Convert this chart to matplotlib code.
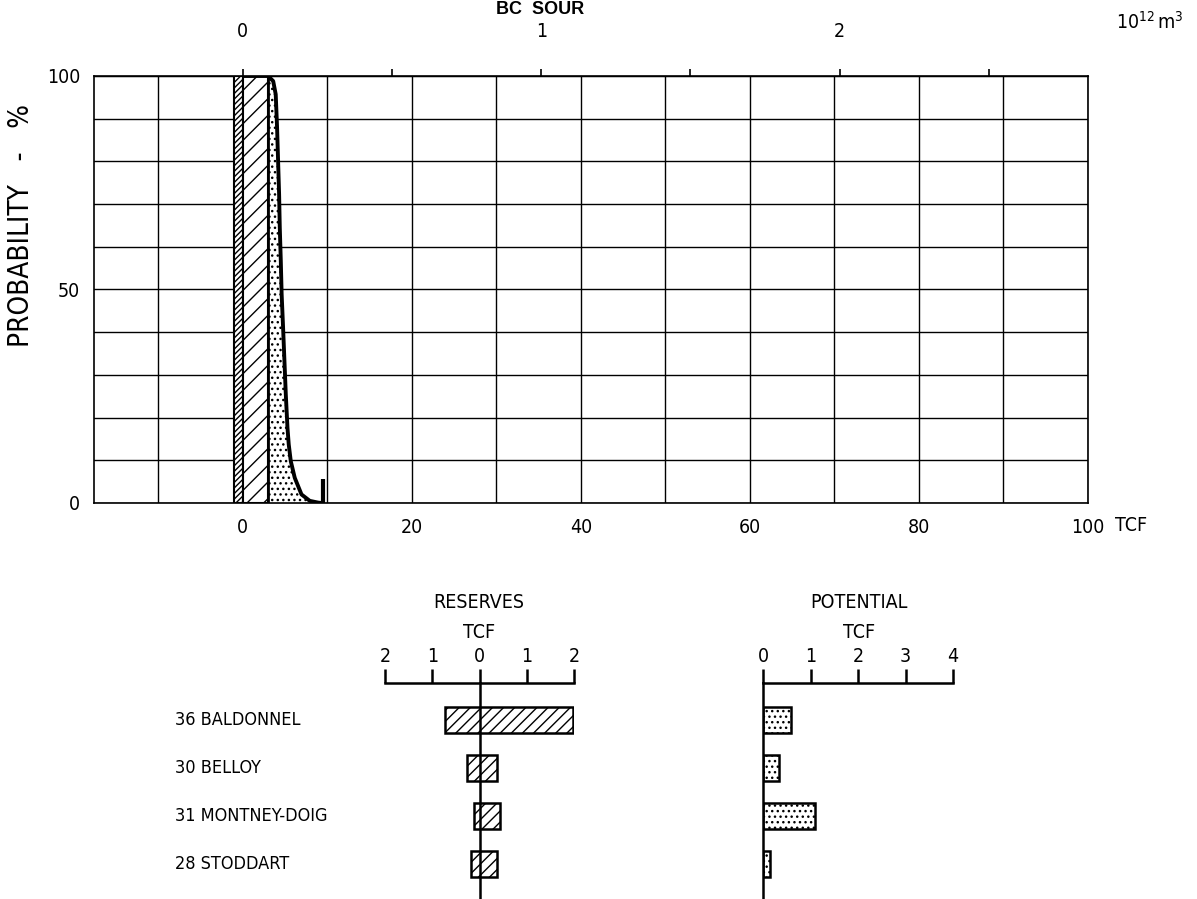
import matplotlib
matplotlib.use("Agg")
import matplotlib.pyplot as plt
import matplotlib.transforms as mtransforms

plt.rcParams['font.family'] = ['DejaVu Sans']
plt.rcParams['font.stretch'] = 'condensed'
plt.rcParams['mathtext.default'] = 'regular'
plt.rcParams['hatch.linewidth'] = 1.0

# cumulative probability curve, BC sour gas (TCF vs % probability)
curve_tcf = [0.2, 3.0, 3.6, 3.9, 4.06, 4.18, 4.3, 4.38, 4.5, 4.6, 4.77, 4.93,
             5.09, 5.29, 5.44, 5.68, 6.15, 6.95, 7.93, 8.9, 9.3]
curve_prob = [100, 100, 98.8, 95.7, 87.9, 80.1, 72.3, 64.5, 56.7, 48.9, 41.1, 33.3,
              25.5, 17.6, 13.7, 9.8, 5.9, 2.0, 0.5, 0.1, 0]
spike_tcf = 9.5
spike_prob = 5.6
band_lo = -1.0   # reserves band, dense hatch
band_mid = 0.0
band_hi = 3.0    # reserves band, light hatch

fields = ['36 BALDONNEL', '30 BELLOY', '31 MONTNEY-DOIG', '28 STODDART']
res_left = [-0.74, -0.27, -0.11, -0.17]
res_right = [1.97, 0.38, 0.44, 0.36]
potential = [0.58, 0.34, 1.09, 0.14]

res_ticks = [-2, -1, 0, 1, 2]
res_ticklabels = ['2', '1', '0', '1', '2']
pot_ticks = [0, 1, 2, 3, 4]

TCF_PER_E12M3 = 35.31
W, H = 1197, 899

fig = plt.figure(figsize=(W / 100, H / 100), dpi=100)

# ---- main probability plot ----
ax = fig.add_axes([94 / W, 1 - 503 / H, (1088 - 94) / W, (503 - 76) / H])
ax.set_xlim(-17.6, 100)
ax.set_ylim(0, 100)
ax.set_xticks([0, 20, 40, 60, 80, 100])
ax.set_xticks([-10, 10, 30, 50, 70, 90], minor=True)
ax.set_yticks([0, 50, 100])
ax.set_yticks(range(10, 100, 10), minor=True)
ax.grid(True, which='both', color='black', lw=1.0)
ax.tick_params(which='both', length=0, labelsize=14, pad=11)
ax.tick_params(axis='y', pad=10)
for s in ax.spines.values():
    s.set_linewidth(1.2)
ax.set_axisbelow(True)

ax.fill_betweenx([0, 100], band_lo, band_mid, facecolor='white', edgecolor='black',
                 hatch='//////', lw=1.5, zorder=2)
ax.fill_betweenx([0, 100], band_mid, band_hi, facecolor='white', edgecolor='black',
                 hatch='//', lw=1.5, zorder=2)
ax.fill_betweenx(curve_prob, band_hi, curve_tcf, where=[t >= band_hi for t in curve_tcf],
                 facecolor='white', edgecolor='black', hatch='...', lw=0, zorder=2)
ax.axvline(band_hi, color='black', lw=2, zorder=3)
ax.plot(curve_tcf, curve_prob, color='black', lw=2.8, zorder=4)
ax.vlines(spike_tcf, 0, spike_prob, color='black', lw=3, zorder=4)

fig.text(21 / W, 1 - 226 / H, 'PROBABILITY   -   %', fontsize=20, rotation=90,
         ha='center', va='center')
ax.text(1.027, -0.052, 'TCF', transform=ax.transAxes, fontsize=14, ha='left', va='center')

secax = ax.secondary_xaxis('top', functions=(lambda x: x / TCF_PER_E12M3,
                                             lambda x: x * TCF_PER_E12M3))
secax.set_xticks([0, 0.5, 1, 1.5, 2, 2.5])
secax.set_xticklabels(['0', '', '1', '', '2', ''])
secax.tick_params(length=5, width=1.2, direction='out', labelsize=14, pad=20)
fig.text(1116 / W, 1 - 22 / H, r'$10^{12}\,m^{3}$', fontsize=14, ha='left', va='center')
fig.text(540 / W, 1 - 9 / H, 'BC  SOUR', family='Liberation Sans', stretch='normal',
         fontsize=13, fontweight='bold', ha='center', va='center')

# ---- reserves / potential bar panels ----
ylo, yhi = (899 - 720) / 48, (683 - 720) / 48


def bar_panel(left_px, right_px, xlim):
    a = fig.add_axes([left_px / W, 0, (right_px - left_px) / W, (899 - 683) / H])
    a.set_xlim(*xlim)
    a.set_ylim(ylo, yhi)
    a.xaxis.tick_top()
    a.set_yticks([])
    a.spines['right'].set_visible(False)
    a.spines['bottom'].set_visible(False)
    a.spines['top'].set_linewidth(1.8)
    a.spines['left'].set_linewidth(1.8)
    a.spines['left'].set_position(('data', 0))
    a.tick_params(axis='x', length=10, width=1.8, direction='out', labelsize=14, pad=2)
    a.patch.set_visible(False)
    return a


axr = bar_panel(385, 574, (-2, 2))
axr.set_xticks(res_ticks)
axr.set_xticklabels(res_ticklabels)
axr.barh(range(len(fields)), [r - l for l, r in zip(res_left, res_right)], left=res_left,
         height=0.54, facecolor='white', edgecolor='black', hatch='///', lw=1.8)

axp = bar_panel(763, 953, (0, 4))
axp.set_xticks(pot_ticks)
axp.barh(range(len(fields)), potential, height=0.54, facecolor='white',
         edgecolor='black', hatch='...', lw=1.8)

fig.text(479 / W, 1 - 602 / H, 'RESERVES', fontsize=14, ha='center', va='center')
fig.text(479 / W, 1 - 632 / H, 'TCF', fontsize=14, ha='center', va='center')
fig.text(859 / W, 1 - 602 / H, 'POTENTIAL', fontsize=14, ha='center', va='center')
fig.text(859 / W, 1 - 632 / H, 'TCF', fontsize=14, ha='center', va='center')

trans = mtransforms.blended_transform_factory(fig.transFigure, axr.transData)
for i, name in enumerate(fields):
    axr.text(175 / W, i, name, transform=trans, fontsize=13, ha='left', va='center')

fig.savefig('out.png', dpi=100)
